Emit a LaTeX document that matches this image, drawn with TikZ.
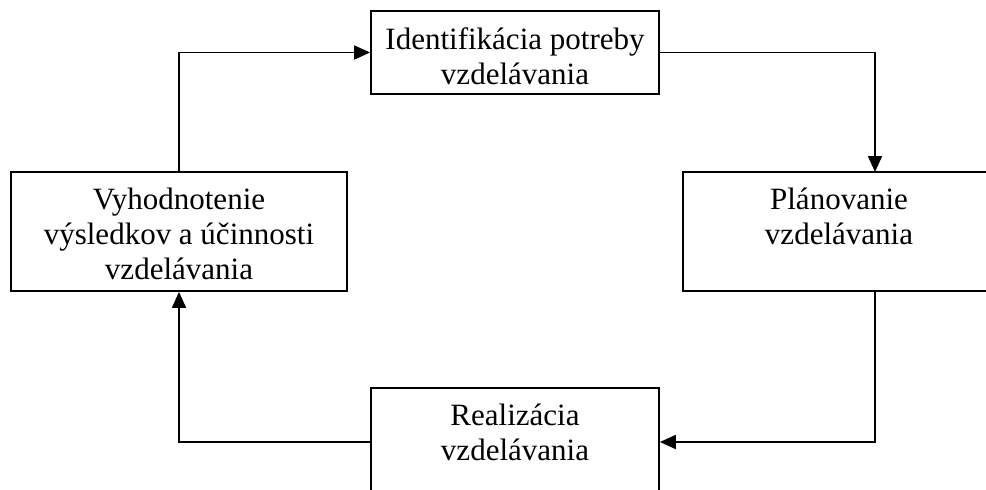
\documentclass[tikz,border=0pt]{standalone}
\usepackage{fontspec}
\setmainfont{Liberation Serif}
\usetikzlibrary{arrows.meta}
\begin{document}
\begin{tikzpicture}[x=0.5pt,y=-0.5pt,
  boxst/.style={draw=black, line width=0.9pt, fill=none, inner sep=0pt},
  lbl/.style={inner sep=0pt, align=center, anchor=north,
    font=\fontsize{15.5pt}{17.5pt}\selectfont},
  arr/.style={line width=0.9pt, -{Triangle[length=8pt,width=7pt]}}]
\useasboundingbox (0,0) rectangle (986,489);
\clip (0,0) rectangle (986,489);
% boxes
\node[boxstyle/.style={}, boxst, minimum width=144pt, minimum height=41.5pt] (top) at (515,52.5) {};
\node[boxst, minimum width=168pt, minimum height=59.5pt] (left) at (179,231.5) {};
\node[boxst, minimum width=156pt, minimum height=59.5pt] (right) at (839,231.5) {};
\node[boxst, minimum width=144pt, minimum height=54pt] (bottom) at (515,442) {};
% labels
\node[lbl] (toptxt) at ([yshift=-8.4pt]top.north) {Identifikácia potreby\\vzdelávania};
\node[lbl] (lefttxt) at ([yshift=-8.4pt]left.north) {Vyhodnotenie\\výsledkov a účinnosti\\vzdelávania};
\node[lbl] (righttxt) at ([yshift=-8.4pt]right.north) {Plánovanie\\vzdelávania};
\node[lbl] (bottomtxt) at ([yshift=-8.4pt]bottom.north) {Realizácia\\vzdelávania};
% connector points
\coordinate (rt) at (875,172);
\coordinate (rb) at (875,291);
% connectors
\draw[arr] (left.north) |- (top.west);
\draw[arr] (top.east) -| (rt);
\draw[arr] (rb) |- (bottom.east);
\draw[arr] (bottom.west) -| (left.south);
\end{tikzpicture}
\end{document}
